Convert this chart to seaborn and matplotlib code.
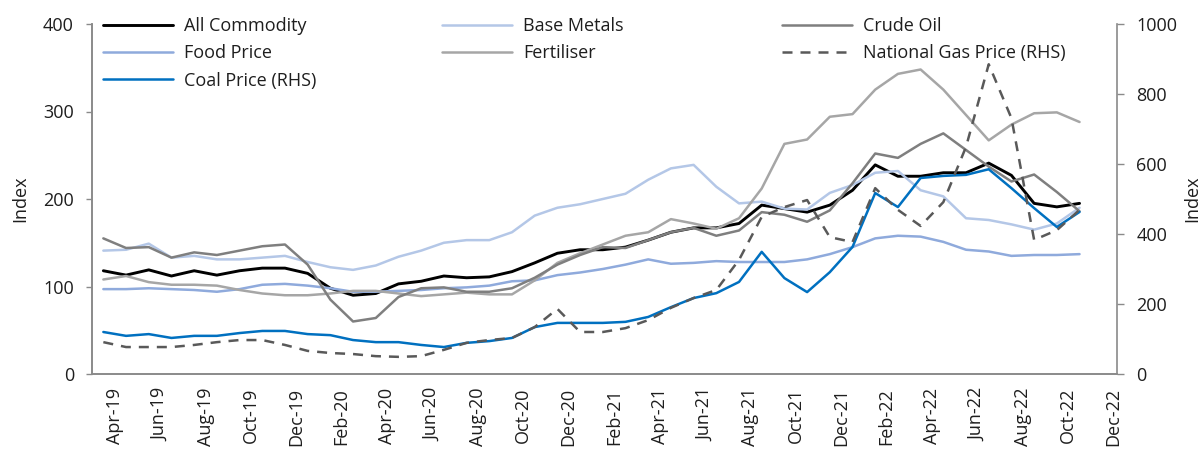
import numpy as np
import pandas as pd
import matplotlib
matplotlib.use("Agg")
import matplotlib.pyplot as plt
import seaborn as sns

all_commodity = [118, 113, 119, 112, 118, 113, 118, 121, 121, 115, 98, 90, 92, 103, 106,
                 112, 110, 111, 117, 127, 138, 142, 142, 145, 153, 162, 167, 167, 172, 193,
                 189, 185, 193, 210, 239, 226, 226, 230, 230, 241, 227, 195, 191, 195]
base_metals = [141, 142, 149, 133, 135, 131, 131, 133, 135, 128, 122, 119, 124, 134, 141,
               150, 153, 153, 162, 181, 190, 194, 200, 206, 222, 235, 239, 214, 195, 197,
               189, 188, 207, 216, 230, 232, 210, 203, 178, 176, 171, 165, 172, 190]
crude_oil = [155, 144, 145, 133, 139, 136, 141, 146, 148, 125, 85, 60, 64, 88, 98,
             99, 94, 94, 98, 110, 125, 136, 145, 144, 153, 162, 167, 158, 164, 185,
             182, 174, 187, 218, 252, 247, 263, 275, 256, 237, 220, 228, 208, 186]
food_price = [97, 97, 98, 97, 96, 94, 97, 102, 103, 101, 98, 94, 94, 95, 96,
              98, 99, 101, 106, 107, 113, 116, 120, 125, 131, 126, 127, 129, 128, 128,
              128, 131, 137, 145, 155, 158, 157, 151, 142, 140, 135, 136, 136, 137]
fertiliser = [108, 112, 105, 102, 102, 101, 96, 92, 90, 90, 92, 95, 95, 92, 89,
              91, 93, 91, 91, 107, 127, 138, 148, 158, 162, 177, 172, 166, 178, 212,
              263, 268, 294, 297, 325, 343, 348, 325, 296, 267, 285, 298, 299, 288]
coal_price = [120, 109, 114, 103, 109, 109, 117, 123, 123, 114, 111, 97, 91, 91, 83,
              77, 89, 94, 103, 134, 146, 146, 146, 149, 163, 191, 217, 231, 263, 349,
              274, 234, 291, 363, 517, 477, 560, 566, 569, 585, 531, 474, 420, 463]
gas_price = [91, 77, 77, 77, 83, 91, 97, 97, 83, 66, 60, 57, 51, 49, 51,
             69, 89, 97, 103, 134, 186, 120, 120, 131, 154, 189, 217, 240, 326, 449,
             477, 497, 391, 377, 531, 469, 423, 491, 649, 885, 731, 383, 411, 469]

tick_labels = ['Apr-19', 'Jun-19', 'Aug-19', 'Oct-19', 'Dec-19',
               'Feb-20', 'Apr-20', 'Jun-20', 'Aug-20', 'Oct-20', 'Dec-20',
               'Feb-21', 'Apr-21', 'Jun-21', 'Aug-21', 'Oct-21', 'Dec-21',
               'Feb-22', 'Apr-22', 'Jun-22', 'Aug-22', 'Oct-22', 'Dec-22']

# months since start of Apr-19, observations taken mid-month
x = np.arange(len(all_commodity)) + 0.5

sns.set_style("white")
plt.rcParams['font.family'] = ['Open Sans', 'DejaVu Sans']
plt.rcParams['font.size'] = 13

grey = '#8a8a8a'
txt = '#1e1e1e'
fs = 13

fig = plt.figure(figsize=(12.04, 4.5), dpi=100)
ax = fig.add_axes([92 / 1204, 1 - 374 / 450, (1117 - 92) / 1204, 350 / 450])
ax2 = ax.twinx()

lw = 1.8
sns.lineplot(x=x, y=all_commodity, ax=ax, color='black', lw=2.1, label='All Commodity')
sns.lineplot(x=x, y=food_price, ax=ax, color='#8faadc', lw=lw, label='Food Price')
sns.lineplot(x=x, y=base_metals, ax=ax, color='#b4c7e7', lw=lw, label='Base Metals')
sns.lineplot(x=x, y=fertiliser, ax=ax, color='#a6a6a6', lw=lw, label='Fertiliser')
sns.lineplot(x=x, y=crude_oil, ax=ax, color='#7f7f7f', lw=lw, label='Crude Oil')
sns.lineplot(x=x, y=coal_price, ax=ax2, color='#0070c0', lw=lw, label='Coal Price (RHS)')
sns.lineplot(x=x, y=gas_price, ax=ax2, color='#595959', lw=lw, label='National Gas Price (RHS)')
ax2.lines[-1].set_dashes((4, 3.2))

for a in (ax, ax2):
    if a.get_legend() is not None:
        a.get_legend().remove()

handles = {ln.get_label(): ln for ln in ax.lines + ax2.lines}

ax.set_xlim(0, 45.15)
ax.set_ylim(0, 400)
ax2.set_ylim(0, 1000)
ax.set_yticks([0, 100, 200, 300, 400])
ax2.set_yticks([0, 200, 400, 600, 800, 1000])

ax.set_xticks(np.arange(0, 46, 2))
ax.set_xticklabels([])
ax.set_xticks(np.arange(1, 46, 2), minor=True)
ax.set_xticklabels(tick_labels, minor=True, rotation=90)

ax.tick_params(axis='x', which='major', length=6, width=1, color=grey, direction='out')
ax.tick_params(axis='x', which='minor', length=0, pad=10, labelsize=fs, labelcolor=txt)
ax.tick_params(axis='y', length=4, width=1, color=grey, direction='out', pad=9,
               labelsize=fs, labelcolor=txt, left=True)
ax2.tick_params(axis='y', length=5, width=1, color=grey, direction='out', pad=9,
                labelsize=fs, labelcolor=txt, right=True)

for a in (ax, ax2):
    a.spines['top'].set_visible(False)
    for s in ('left', 'right', 'bottom'):
        a.spines[s].set_color(grey)
        a.spines[s].set_linewidth(1.2)
ax.spines['right'].set_visible(False)

ax.set_ylabel('Index', fontsize=fs, color=txt, labelpad=10)
ax2.set_ylabel('Index', fontsize=fs, color=txt, labelpad=4, rotation=90)
ax.set_xlabel('')

legend_cols = [
    (['All Commodity', 'Food Price', 'Coal Price (RHS)'], 103),
    (['Base Metals', 'Fertiliser'], 442),
    (['Crude Oil', 'National Gas Price (RHS)'], 782),
]
for names, left in legend_cols:
    leg = fig.legend([handles[n] for n in names], names, loc='upper left',
                     bbox_to_anchor=(left / 1204, 1 - 17 / 450), frameon=False,
                     borderpad=0, borderaxespad=0, handlelength=3.9, handletextpad=0.6,
                     labelspacing=0.52, fontsize=fs)
    for t in leg.get_texts():
        t.set_color(txt)

fig.savefig('out.png', dpi=100)
